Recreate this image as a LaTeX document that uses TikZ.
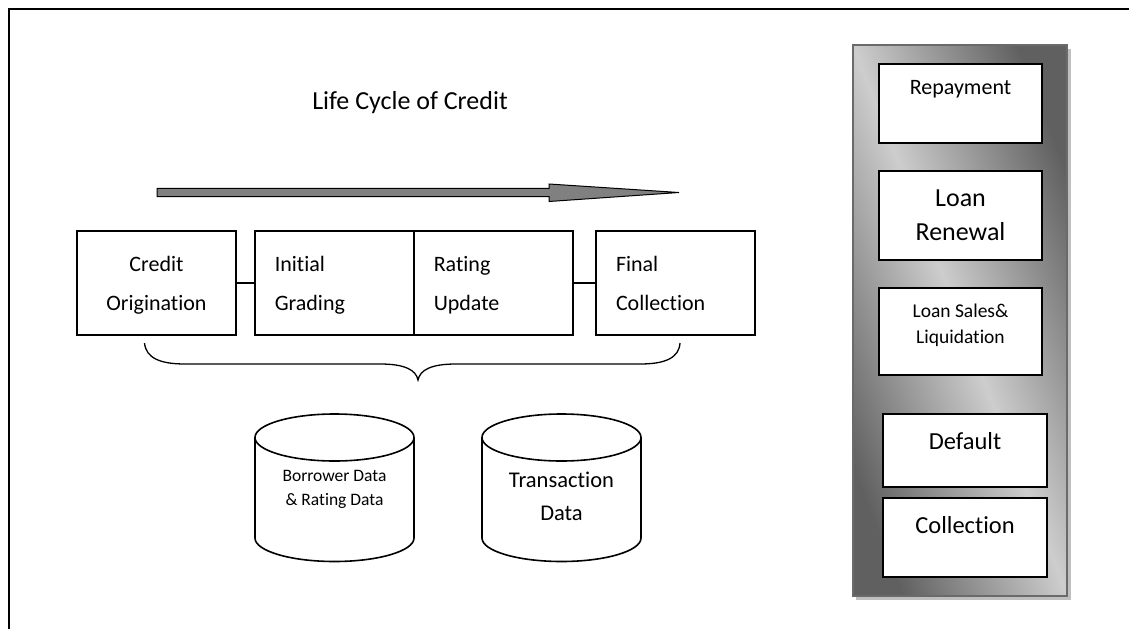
\documentclass[tikz,border=0pt]{standalone}
\usepackage{fontspec}
\setmainfont{Carlito}[Ligatures={NoCommon}]
\begin{document}
\begin{tikzpicture}[x=1pt,y=-1pt,
  stagebox/.style={draw, line width=1.8pt, minimum width=159pt, minimum height=104pt,
    inner xsep=20pt, inner ysep=0pt, text width=119pt, font=\fontsize{22}{39}\selectfont, anchor=center},
  pbox/.style={draw, fill=white, line width=1.8pt, inner sep=0pt},
  cyl/.style={draw, line width=1.6pt},
  plain/.style={inner sep=0pt, align=center}
]
\definecolor{pdark}{HTML}{6A6A6A}
\definecolor{pdeep}{HTML}{606060}
\definecolor{plight}{HTML}{CDCDCD}
\definecolor{arrowgray}{HTML}{808080}
\definecolor{shadowgray}{HTML}{BFBFBF}
\useasboundingbox (0,0) rectangle (1129,629);
% frame
\draw[line width=1.6pt] (1129,9) -- (9,9) -- (9,629);
% title
\node[plain, font=\fontsize{26}{30}\selectfont] (title) at (410,103) {Life Cycle of Credit};
% big arrow
\draw[fill=arrowgray, line width=1pt] (157,188.3) -- (549,188.3) -- (549,184) -- (679,192.5)
  -- (549,201.5) -- (549,196.7) -- (157,196.7) -- cycle;
% stage boxes
\node[stagebox, align=center] (b1) at (156.5,283) {\strut Credit\\Origination\strut};
\node[stagebox, align=left] (b2) at (334.25,283) {\strut Initial\\Grading\strut};
\node[stagebox, align=left] (b3) at (493.25,283) {\strut Rating\\Update\strut};
\node[stagebox, align=left] (b4) at (675.5,283) {\strut Final\\Collection\strut};
\draw[line width=1.6pt] (b1.east) -- (b2.west);
\draw[line width=1.6pt] (b3.east) -- (b4.west);
% brace
\draw[line width=1.3pt] (144.5,343) .. controls (146,358) and (160,364) .. (185,364)
  -- (380,364) .. controls (405,364) and (416,370) .. (418,380)
  .. controls (420,370) and (431,364) .. (456,364) -- (640,364)
  .. controls (665,364) and (679,358) .. (680,343);
% cylinders
\draw[cyl] (334.5,437.5) ellipse [x radius=79.5, y radius=23.5];
\draw[cyl] (255,437.5) -- (255,538) arc[start angle=180, end angle=0, x radius=79.5, y radius=23.5] -- (414,437.5);
\node[plain, font=\fontsize{17.5}{24}\selectfont] (cyl1) at (334.5,489) {Borrower Data\\\& Rating Data};
\draw[cyl] (561.5,437.5) ellipse [x radius=79.5, y radius=23.5];
\draw[cyl] (482,437.5) -- (482,538) arc[start angle=180, end angle=0, x radius=79.5, y radius=23.5] -- (641,437.5);
\node[plain, font=\fontsize{22.5}{33}\selectfont] (cyl2) at (561.5,496.5) {Transaction\\Data};
% right panel
\fill[shadowgray] (856,49) rectangle (1071,600);
\shade[top color=pdeep, bottom color=pdeep, middle color=plight, shading angle=-68.7]
  (853,45) rectangle (1067,596);
\draw[pdark, line width=2.5pt] (853,45) rectangle (1067,596);
\node[pbox, minimum width=163pt, minimum height=79pt] (rep) at (960.5,103.5) {};
\node[plain, font=\fontsize{22}{26}\selectfont] (reptxt) at (960.5,89) {Repayment};
\node[pbox, minimum width=163pt, minimum height=89pt, align=center, font=\fontsize{26}{34}\selectfont] (ren) at (960.5,215.5) {Loan\\Renewal};
\node[pbox, minimum width=163pt, minimum height=87pt] (sale) at (960.5,331.5) {};
\node[plain, font=\fontsize{19.5}{26}\selectfont] (saletxt) at (960.5,325) {Loan Sales\&\\Liquidation};
\node[pbox, minimum width=164pt, minimum height=73pt] (def) at (965,450.5) {};
\node[plain, font=\fontsize{24.5}{28}\selectfont] (deftxt) at (965,441) {Default};
\node[pbox, minimum width=164pt, minimum height=79pt] (col) at (965,537.5) {};
\node[plain, font=\fontsize{24.5}{28}\selectfont] (coltxt) at (965,525) {Collection};
\end{tikzpicture}
\end{document}
